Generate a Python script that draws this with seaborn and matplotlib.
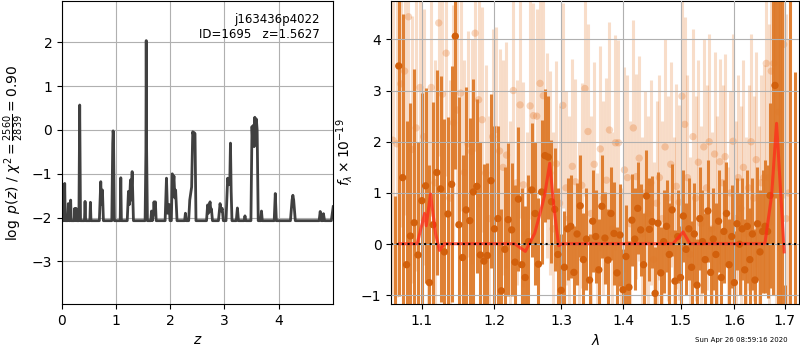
import numpy as np
import matplotlib
matplotlib.use('Agg')
import matplotlib.pyplot as plt
import seaborn as sns
from matplotlib.ticker import NullLocator

# p(z) curve, vertices
z_pz = [0.000, 0.040, 0.050, 0.060,
        0.105, 0.117, 0.128, 0.150, 0.160, 0.170,
        0.225, 0.235, 0.245, 0.255, 0.262, 0.272,
        0.312, 0.327, 0.342,
        0.415, 0.426, 0.437,
        0.515, 0.525, 0.535,
        0.690, 0.716, 0.730, 0.747, 0.765,
        0.920, 0.937, 0.944, 0.951, 0.968,
        1.075, 1.086, 1.097,
        1.205, 1.228, 1.245, 1.265, 1.275, 1.296, 1.320,
        1.535, 1.550, 1.556, 1.562, 1.578,
        1.640, 1.654, 1.668, 1.690, 1.700, 1.712, 1.725, 1.740,
        1.905, 1.930, 1.950, 1.970, 1.980, 1.995,
        2.020, 2.037, 2.052, 2.068, 2.085, 2.099, 2.125,
        2.265, 2.280, 2.295,
        2.340, 2.360, 2.395, 2.415, 2.426, 2.440, 2.457, 2.475,
        2.670, 2.690, 2.705, 2.720, 2.735, 2.750, 2.760, 2.780,
        2.890, 2.920, 2.940, 2.960, 2.980,
        3.030, 3.060, 3.080, 3.100, 3.112, 3.125, 3.140,
        3.220, 3.240, 3.260,
        3.365, 3.380, 3.395,
        3.490, 3.510, 3.525, 3.537, 3.550, 3.562, 3.574, 3.590, 3.605, 3.625,
        3.670, 3.685, 3.700,
        3.920, 3.940, 3.960,
        4.220, 4.250, 4.265, 4.280, 4.310,
        4.750, 4.770, 4.790, 4.815, 4.830, 4.850,
        4.975, 5.010]
log_pz = [-2.07, -2.07, -1.22, -2.07,
          -2.07, -1.68, -2.07, -2.07, -1.60, -2.07,
          -2.07, -1.79, -2.07, -1.95, -1.79, -2.07,
          -2.07, 0.57, -2.07,
          -2.07, -1.63, -2.07,
          -2.07, -1.65, -2.07,
          -2.07, -1.18, -1.70, -1.37, -2.07,
          -2.07, -0.30, -0.02, -0.10, -2.07,
          -2.07, -1.09, -2.07,
          -2.07, -1.40, -1.70, -1.14, -1.60, -0.95, -2.07,
          -2.07, -0.50, 2.04, -0.30, -2.07,
          -2.07, -1.85, -2.07, -1.90, -1.64, -1.90, -1.64, -2.07,
          -2.07, -1.10, -1.90, -1.75, -1.70, -2.07,
          -2.07, -1.00, -1.30, -1.05, -1.55, -1.37, -2.07,
          -2.07, -1.90, -2.07,
          -2.07, -1.60, -1.30, -0.04, -0.10, -0.06, -0.08, -2.07,
          -2.07, -1.71, -1.90, -1.75, -1.64, -1.85, -1.80, -2.07,
          -2.07, -1.68, -1.85, -1.79, -2.07,
          -2.07, -1.10, -1.25, -1.15, -0.30, -1.40, -2.07,
          -2.07, -1.78, -2.07,
          -2.07, -1.96, -2.07,
          -2.07, 0.08, -0.35, 0.11, -0.38, 0.29, -0.30, 0.25, 0.00, -2.07,
          -2.07, -1.85, -2.07,
          -2.07, -1.45, -2.07,
          -2.07, -1.60, -1.49, -1.60, -2.07,
          -2.07, -1.86, -2.07, -2.07, -1.91, -2.07,
          -2.07, -1.75]

# binned spectrum (dark)
dark_wave = [1.065, 1.070, 1.075, 1.080, 1.085, 1.090, 1.095, 1.100, 1.105, 1.110,
             1.115, 1.120, 1.125, 1.130, 1.135, 1.140, 1.145, 1.150, 1.155, 1.160,
             1.165, 1.170, 1.175, 1.180, 1.185, 1.190, 1.195, 1.200, 1.205, 1.210,
             1.215, 1.220, 1.225, 1.230, 1.235, 1.240, 1.245, 1.250, 1.255, 1.260,
             1.265, 1.270, 1.275, 1.280, 1.285, 1.290, 1.295, 1.300, 1.305, 1.310,
             1.315, 1.320, 1.325, 1.330, 1.335, 1.340, 1.345, 1.350, 1.355, 1.360,
             1.365, 1.370, 1.375, 1.380, 1.385, 1.390, 1.395, 1.400, 1.405, 1.410,
             1.415, 1.420, 1.425, 1.430, 1.435, 1.440, 1.445, 1.450, 1.455, 1.460,
             1.465, 1.470, 1.475, 1.480, 1.485, 1.490, 1.495, 1.500, 1.505, 1.510,
             1.515, 1.520, 1.525, 1.530, 1.535, 1.540, 1.545, 1.550, 1.555, 1.560,
             1.565, 1.570, 1.575, 1.580, 1.585, 1.590, 1.595, 1.600, 1.605, 1.610,
             1.615, 1.620, 1.625, 1.630, 1.635, 1.640, 1.645, 1.650, 1.655, 1.660,
             1.665, 1.670, 1.675, 1.680, 1.685, 1.690, 1.695, 1.700, 1.710, 1.720]
dark_flux = [-3.00, 3.48, 1.30, -0.40, 0.16, 0.42, -0.21, 0.85, 1.14, -0.75,
             0.38, 1.40, 1.08, -0.15, 0.59, 1.17, 4.06, 0.38, -0.26, 0.67,
             0.46, 1.02, 1.13, -0.21, -0.33, -0.22, 1.24, 0.30, 0.50, -0.91,
             -0.10, 0.48, 0.28, -0.35, 0.88, -0.40, -0.65, 0.05, 1.06, 0.60,
             -0.39, 1.02, 1.73, 1.70, 0.83, 0.68, -0.20, -0.90, -0.45, 0.30,
             0.35, -0.55, 0.20, 0.75, -0.30, 0.10, -0.70, 0.45, 0.15, -0.50,
             0.74, 0.12, -0.31, 0.60, 0.21, -0.56, 0.18, -0.89, -0.24, -0.84,
             0.47, 0.10, 0.70, 0.28, -0.40, 0.94, 0.29, 0.44, -0.96, 0.41,
             -0.56, 0.05, 0.35, -0.20, 0.67, -0.72, 0.15, -0.65, 0.55, -0.10,
             0.30, -0.45, 0.20, -0.80, 0.50, 0.05, -0.30, 0.65, -0.55, 0.10,
             -0.20, 0.45, -0.65, 0.25, 0.60, -0.40, 0.15, -0.75, 0.40, 0.00,
             0.30, -0.50, 0.35, -0.30, 0.20, -0.70, 0.40, -0.15, 0.25, 0.35,
             0.25, 0.95, 6.00, 3.10, 6.00, 6.00, 6.00, -3.00, 6.00, -3.00]
dark_err = [3.95, 4.50, 3.20, 2.80, 2.60, 3.00, 2.20, 2.10, 1.90, 2.30,
            2.40, 2.00, 2.20, 2.60, 1.90, 2.30, 2.60, 2.50, 2.00, 2.40,
            2.00, 2.20, 1.70, 2.20, 1.90, 1.80, 1.70, 2.00, 1.80, 1.60,
            1.60, 1.50, 1.30, 1.50, 1.40, 1.50, 1.40, 1.30, 1.30, 1.40,
            1.30, 1.40, 1.30, 1.20, 1.20, 1.20, 1.30, 1.10, 1.10, 1.00,
            1.00, 0.90, 1.00, 1.00, 0.90, 1.00, 0.90, 1.00, 0.90, 1.00,
            1.00, 0.90, 1.00, 0.90, 1.00, 0.90, 1.00, 0.80, 1.00, 0.90,
            0.90, 1.00, 0.90, 0.90, 1.00, 0.90, 1.00, 0.90, 0.90, 1.00,
            0.90, 1.00, 0.90, 1.00, 0.90, 1.00, 0.90, 1.00, 0.90, 0.90,
            1.00, 0.90, 1.00, 0.90, 1.00, 1.00, 0.90, 1.00, 0.90, 1.00,
            1.00, 1.00, 0.90, 1.00, 1.00, 0.90, 1.00, 1.00, 0.90, 1.00,
            1.00, 1.00, 1.10, 1.00, 1.10, 1.00, 1.10, 1.20, 1.20, 1.30,
            1.30, 1.80, 7.00, 2.20, 8.00, 8.00, 8.00, 2.20, 8.00, 6.37]

# second spectrum (faint)
light_wave = [1.0625, 1.0675, 1.0725, 1.0775, 1.0825, 1.0875, 1.0925, 1.0975, 1.1025, 1.1075,
              1.1125, 1.1175, 1.1225, 1.1275, 1.1325, 1.1375, 1.1425, 1.1475, 1.1525, 1.1575,
              1.1625, 1.1675, 1.1725, 1.1775, 1.1825, 1.1875, 1.1925, 1.1975, 1.2025, 1.2075,
              1.2125, 1.2175, 1.2225, 1.2275, 1.2325, 1.2375, 1.2425, 1.2475, 1.2525, 1.2575,
              1.2625, 1.2675, 1.2725, 1.2775, 1.2825, 1.2875, 1.2925, 1.2975, 1.3025, 1.3075,
              1.3125, 1.3175, 1.3225, 1.3275, 1.3325, 1.3375, 1.3425, 1.3475, 1.3525, 1.3575,
              1.3625, 1.3675, 1.3725, 1.3775, 1.3825, 1.3875, 1.3925, 1.3975, 1.4025, 1.4075,
              1.4125, 1.4175, 1.4225, 1.4275, 1.4325, 1.4375, 1.4425, 1.4475, 1.4525, 1.4575,
              1.4625, 1.4675, 1.4725, 1.4775, 1.4825, 1.4875, 1.4925, 1.4975, 1.5025, 1.5075,
              1.5125, 1.5175, 1.5225, 1.5275, 1.5325, 1.5375, 1.5425, 1.5475, 1.5525, 1.5575,
              1.5625, 1.5675, 1.5725, 1.5775, 1.5825, 1.5875, 1.5925, 1.5975, 1.6025, 1.6075,
              1.6125, 1.6175, 1.6225, 1.6275, 1.6325, 1.6375, 1.6425, 1.6475, 1.6525, 1.6575,
              1.6625, 1.6675, 1.6725, 1.6775, 1.6825, 1.6875, 1.6925, 1.6975, 1.7025, 1.7075]
light_flux = [2.03, 1.96, 3.13, 3.38, 4.44, 1.85, 2.27, 3.06, 2.10, 0.60,
              3.06, 1.20, 4.32, 2.93, 3.73, 0.90, 2.37, 2.62, 2.95, 1.40,
              1.96, 1.81, 4.12, 2.82, 2.43, 1.39, 0.50, 2.10, 2.24, 1.82,
              1.50, 1.74, 0.40, 3.00, 1.20, 2.72, 1.16, 0.20, 2.70, 2.51,
              2.50, 3.14, 2.90, 1.74, 1.39, 0.30, 1.57, 0.80, 2.71, 1.10,
              0.50, 1.52, 1.22, 0.10, 1.15, 3.04, 2.20, 0.60, 1.56, -0.50,
              1.86, 0.90, 1.25, 2.23, 0.30, 1.98, 1.98, -0.80, 1.45, 1.30,
              0.40, 2.27, 1.32, 1.68, 0.20, 1.00, 0.60, 1.20, -0.30, 0.80,
              1.30, 0.50, 1.90, 0.90, 1.56, 0.20, 1.13, 0.82, 2.89, 2.34,
              1.30, -0.20, 2.10, 0.90, 1.60, 0.40, 1.90, 1.10, 2.00, 0.30,
              1.76, 0.60, 1.61, 1.20, 1.71, -0.40, 1.00, 2.01, 0.50, 1.30,
              0.70, 1.50, 0.20, 1.10, 2.00, 0.90, 1.65, 0.40, 1.20, 1.30,
              3.53, 1.30, 3.38, 3.53, 1.50, 2.58, -0.10, 3.90, 0.50, 1.00]
light_err = [3.0, 3.0, 2.8, 2.8, 3.0, 2.6, 2.8, 2.6, 2.5, 2.4,
             2.5, 2.4, 2.6, 2.4, 2.4, 2.3, 2.3, 2.2, 2.3, 2.2,
             2.2, 2.2, 2.3, 2.1, 2.2, 2.1, 2.0, 2.1, 2.0, 2.0,
             2.1, 2.2, 2.0, 2.2, 2.0, 2.2, 2.0, 2.0, 2.2, 2.2,
             2.1, 2.1, 2.2, 2.0, 2.0, 1.9, 2.0, 1.9, 2.0, 1.9,
             2.0, 2.1, 2.0, 1.9, 2.0, 2.1, 2.1, 1.9, 2.0, 1.9,
             2.0, 1.9, 2.0, 2.1, 1.9, 2.1, 2.0, 1.9, 2.0, 2.0,
             2.0, 2.1, 2.0, 2.0, 1.9, 2.0, 1.9, 2.0, 1.9, 2.0,
             2.0, 1.9, 2.1, 2.0, 2.0, 1.9, 2.0, 1.9, 2.1, 2.1,
             2.0, 1.9, 2.1, 2.0, 2.0, 1.9, 2.1, 2.0, 2.1, 1.9,
             2.0, 1.9, 2.0, 1.9, 2.0, 1.9, 2.0, 2.1, 1.9, 2.0,
             2.0, 2.1, 1.9, 2.0, 2.1, 2.0, 2.1, 1.9, 2.1, 2.2,
             2.5, 3.0, 3.0, 3.5, 4.0, 4.0, 3.5, 3.0, 4.0, 3.0]

# best-fit model (red)
model_wave = [1.0710, 1.0939, 1.1036, 1.1058, 1.1115, 1.1182, 1.1235, 1.1302,
              1.2295, 1.2453, 1.2593, 1.2695, 1.2745, 1.2823, 1.2889, 1.2961, 1.3010,
              1.4866, 1.5046, 1.5169, 1.6596, 1.6730, 1.6831, 1.6986]
model_flux = [0.01, 0.01, 0.60, 0.36, 0.98, 0.21, -0.12, 0.01,
              0.01, -0.14, 0.21, 0.70, 0.96, 1.58, 0.70, -0.03, 0.01,
              0.01, 0.24, 0.01, 0.01, 0.94, 2.36, -0.15]

lam_ticks = [1.1, 1.2, 1.3, 1.4, 1.5, 1.6, 1.7]

dark_bar = '#de7a2a'
dark_pt = '#d2600c'
light_c = '#e6782a'

fig = plt.figure(figsize=(8, 3.5), dpi=100)
ax1 = fig.add_axes([0.0775, 0.131, 0.339, 0.866])
ax2 = fig.add_axes([0.489, 0.131, 0.51, 0.866])

# left: redshift probability
sns.lineplot(x=z_pz, y=log_pz, ax=ax1, color='#404040', lw=2, estimator=None, sort=False)
ax1.set_xlim(0, 5.01)
ax1.set_ylim(-3.975, 2.943)
ax1.set_xticks([0, 1, 2, 3, 4])
ax1.set_yticks([-3, -2, -1, 0, 1, 2])
ax1.grid(True)
ax1.set_xlabel(r'$z$')
ax1.set_ylabel(r'$\log\ p(z)$ / $\chi^2=\frac{2560}{2839}=0.90$')
ax1.text(0.952, 0.962, 'j163436p4022\nID=1695   z=1.5627', transform=ax1.transAxes,
         ha='right', va='top', fontsize=8.5)

# right: spectrum
ax2.errorbar(light_wave, light_flux, yerr=light_err, fmt='none', ecolor=light_c,
             elinewidth=2.2, alpha=0.25, zorder=1)
sns.scatterplot(x=light_wave, y=light_flux, ax=ax2, color=light_c, s=28, alpha=0.3,
                edgecolor='none', zorder=1.5)
ax2.errorbar(dark_wave, dark_flux, yerr=dark_err, fmt='none', ecolor=dark_bar,
             elinewidth=2.2, alpha=0.95, zorder=2)
sns.scatterplot(x=dark_wave, y=dark_flux, ax=ax2, color=dark_pt, s=28,
                edgecolor='none', zorder=3)
sns.lineplot(x=model_wave, y=model_flux, ax=ax2, color='#ff2a1a', lw=2.2, alpha=0.75,
             estimator=None, sort=False, zorder=4)
ax2.axhline(0, color='k', ls=':', lw=1.5, zorder=5)

ax2.set_xscale('log')
ax2.set_xlim(1.0603, 1.7294)
ax2.set_xticks(lam_ticks)
ax2.set_xticklabels([str(t) for t in lam_ticks])
ax2.xaxis.set_minor_locator(NullLocator())
ax2.set_ylim(-1.17, 4.747)
ax2.set_yticks([-1, 0, 1, 2, 3, 4])
ax2.set_axisbelow(False)
ax2.grid(True)
ax2.set_xlabel(r'$\lambda$')
ax2.set_ylabel(r'$f_\lambda\times10^{-19}$')

fig.text(0.985, 0.029, 'Sun Apr 26 08:59:16 2020', ha='right', va='center', fontsize=5)

fig.savefig('out.png', dpi=100)
